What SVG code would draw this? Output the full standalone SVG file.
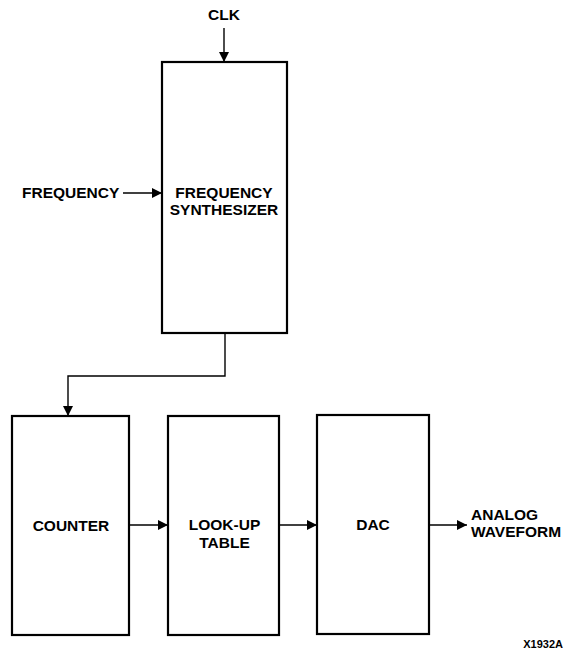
<svg xmlns="http://www.w3.org/2000/svg" width="575" height="655" viewBox="0 0 575 655">
<style>
.box{fill:none;stroke:#000;stroke-width:2.2}
.ln{fill:none;stroke:#000;stroke-width:1.4}
text{font-family:"Liberation Sans",Arial,sans-serif;font-weight:bold;font-size:15.5px;fill:#000}
.c{text-anchor:middle}
</style>
<defs>
<marker id="ah" viewBox="0 0 10 10" refX="10" refY="5" markerWidth="10" markerHeight="10" markerUnits="userSpaceOnUse" orient="auto">
<path d="M0,0 L10,5 L0,10 Z" fill="#000"/>
</marker>
</defs>
<rect width="575" height="655" fill="#fff"/>
<g id="connectors">
<line class="ln" x1="224" y1="28" x2="224" y2="62" marker-end="url(#ah)"/>
<line class="ln" x1="123" y1="193" x2="162" y2="193" marker-end="url(#ah)"/>
<polyline class="ln" points="225,334 225,376 68,376 68,416" marker-end="url(#ah)"/>
<line class="ln" x1="130" y1="525" x2="168" y2="525" marker-end="url(#ah)"/>
<line class="ln" x1="279" y1="525" x2="317" y2="525" marker-end="url(#ah)"/>
<line class="ln" x1="429" y1="525" x2="467" y2="525" marker-end="url(#ah)"/>
</g>
<g id="clk"><text class="c" x="224" y="20">CLK</text></g>
<g id="frequency"><text x="22" y="198">FREQUENCY</text></g>
<g id="synth">
<rect class="box" x="162" y="62" width="125" height="271"/>
<text class="c" x="224" y="198">FREQUENCY</text>
<text class="c" x="224" y="215">SYNTHESIZER</text>
</g>
<g id="counter">
<rect class="box" x="12" y="416" width="117" height="219"/>
<text class="c" x="71" y="531">COUNTER</text>
</g>
<g id="lut">
<rect class="box" x="168" y="416" width="111" height="219"/>
<text class="c" x="224.5" y="530">LOOK-UP</text>
<text class="c" x="224.5" y="548">TABLE</text>
</g>
<g id="dac">
<rect class="box" x="317" y="415" width="112" height="219"/>
<text class="c" x="373" y="530">DAC</text>
</g>
<g id="output">
<text x="471" y="520">ANALOG</text>
<text x="471" y="537">WAVEFORM</text>
</g>
<text x="563" y="648" text-anchor="end" style="font-size:11px">X1932A</text>
</svg>
